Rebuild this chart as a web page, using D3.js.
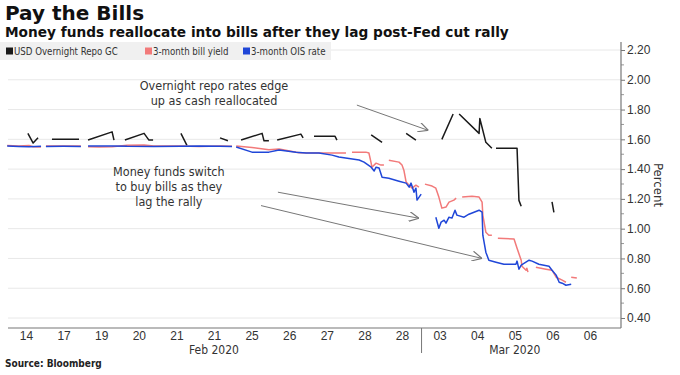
<!DOCTYPE html>
<html>
<head>
<meta charset="utf-8">
<script src="https://cdn.jsdelivr.net/npm/d3@7/dist/d3.min.js"></script>
<style>
    body { margin: 0; background: #fff; }
    svg { font-family: "DejaVu Sans Condensed", "DejaVu Sans", sans-serif; }
</style>
</head>
<body>
<div id="chart"></div>
<script>
// time axis is in trading-session units: tick i sits on session i
var tickLabels = ["14", "17", "19", "20", "21", "21", "25", "26", "27", "28", "28", "03", "04", "05", "06", "06"];
var months = [{ label: "Feb 2020", at: 5 }, { label: "Mar 2020", at: 13 }];
var monthBreak = 10.52;
var yTicks = [0.4, 0.6, 0.8, 1.0, 1.2, 1.4, 1.6, 1.8, 2.0, 2.2];

// [session, percent], null = gap
var repo = [
    [0.05, 1.64], [0.19, 1.575], [0.32, 1.61], null,
    [0.69, 1.60], [1.41, 1.60], null,
    [1.65, 1.595], [2.29, 1.65], [2.34, 1.595], null,
    [2.63, 1.595], [3.14, 1.64], [3.27, 1.595], [3.38, 1.595], null,
    [4.12, 1.64], [4.28, 1.56], null,
    [5.16, 1.61], [5.37, 1.59], null,
    [5.72, 1.595], [6.28, 1.64], [6.33, 1.59], [6.46, 1.59], null,
    [6.68, 1.595], [7.31, 1.635], [7.37, 1.61], null,
    [7.66, 1.62], [8.22, 1.62], [8.27, 1.595], null,
    [9.18, 1.63], [9.47, 1.58], null,
    [10.11, 1.64], [10.37, 1.595], null,
    [11.06, 1.60], [11.36, 1.77], null,
    [11.52, 1.77], [12.05, 1.64], [12.07, 1.74], [12.23, 1.58], [12.39, 1.54], null,
    [12.50, 1.54], [13.06, 1.54], [13.11, 1.19], [13.17, 1.15], null,
    [13.99, 1.18], [14.04, 1.11]
];

var bill = [
    [-0.5, 1.558], [-0.19, 1.555], [0.08, 1.558], [0.19, 1.55], [0.40, 1.548], null,
    [0.53, 1.556], [1.0, 1.555], [1.46, 1.556], null,
    [1.65, 1.55], [1.94, 1.548], [2.29, 1.55], [2.69, 1.56], [3.14, 1.562], [3.40, 1.556], [4.12, 1.555],
    [4.60, 1.552], [5.16, 1.555], [5.48, 1.553], null,
    [5.59, 1.555], [6.01, 1.545], [6.46, 1.53], [6.73, 1.535], [7.26, 1.51], [7.79, 1.508], [8.51, 1.508], null,
    [8.67, 1.514], [9.04, 1.514], [9.12, 1.508], [9.18, 1.44], [9.20, 1.413], [9.31, 1.44], [9.44, 1.427], [9.52, 1.427], null,
    [9.65, 1.46], [9.92, 1.447], [10.0, 1.427], [10.05, 1.393], [10.11, 1.313], [10.19, 1.292], [10.27, 1.272],
    [10.37, 1.292], [10.45, 1.279], null,
    [10.61, 1.299], [10.80, 1.286], [10.90, 1.272], [10.98, 1.212], [11.06, 1.138], [11.17, 1.145], [11.25, 1.178],
    [11.38, 1.192], [11.44, 1.205], null,
    [11.60, 1.212], [11.86, 1.218], [12.05, 1.212], [12.13, 1.178], [12.15, 1.091], [12.23, 0.976], [12.31, 0.956],
    [12.39, 0.956], null,
    [12.55, 0.936], [12.98, 0.93], [13.06, 0.868], [13.17, 0.788], [13.19, 0.748], [13.30, 0.721], [13.32, 0.734],
    [13.35, 0.708], null,
    [13.56, 0.741], [13.83, 0.728], [13.99, 0.721], [14.10, 0.674], [14.26, 0.654], [14.36, 0.64], null,
    [14.50, 0.674], [14.65, 0.668]
];

var ois = [
    [-0.5, 1.555], [-0.19, 1.552], [0.08, 1.55], [0.40, 1.553], null,
    [0.53, 1.552], [1.0, 1.553], [1.46, 1.552], null,
    [1.65, 1.555], [2.29, 1.556], [2.69, 1.553], [3.4, 1.552], [4.12, 1.553], [4.6, 1.555], [5.16, 1.553], [5.48, 1.552], null,
    [5.59, 1.548], [6.01, 1.514], [6.46, 1.514], [6.73, 1.528], [7.18, 1.514], [7.45, 1.508], [7.79, 1.508],
    [8.14, 1.494], [8.32, 1.481], [8.86, 1.461], [8.99, 1.447], [9.18, 1.413], [9.26, 1.387], [9.31, 1.413],
    [9.39, 1.407], [9.47, 1.346], [9.65, 1.339], [9.92, 1.319], [10.11, 1.306], [10.19, 1.279], [10.24, 1.306],
    [10.32, 1.245], [10.37, 1.272], [10.40, 1.192], [10.51, 1.232], null,
    [10.90, 1.077], [10.98, 1.003], [11.04, 1.044], [11.12, 1.057], [11.17, 1.037], [11.25, 1.077], [11.33, 1.071],
    [11.41, 1.124], [11.46, 1.091], [11.65, 1.077], [11.78, 1.097], [12.05, 1.124], [12.13, 1.111], [12.15, 0.956],
    [12.23, 0.842], [12.31, 0.788], [12.50, 0.775], [12.71, 0.761], [13.03, 0.761], [13.06, 0.782], [13.11, 0.728],
    [13.17, 0.755], [13.38, 0.788], [13.46, 0.782], [13.64, 0.761], [13.91, 0.748], [13.99, 0.721], [14.10, 0.688],
    [14.18, 0.64], [14.26, 0.634], [14.36, 0.62], [14.50, 0.627]
];

var series = [
    { name: "USD Overnight Repo GC", color: "#1a1a1a", data: repo },
    { name: "3-month bill yield", color: "#f27a7a", data: bill },
    { name: "3-month OIS rate", color: "#2047d8", data: ois }
];

// annotations: text lines + arrows [session, percent] from -> to
var notes = [
    { lines: ["Overnight repo rates edge", "up as cash reallocated"], at: [5, 1.93],
      arrows: [[[8.8, 1.83], [10.7, 1.66]]] },
    { lines: ["Money funds switch", "to buy bills as they", "lag the rally"], at: [3.8, 1.355],
      arrows: [[[6.7, 1.245], [10.45, 1.07]], [[6.25, 1.155], [12.13, 0.8]]] }
];

var W = 680, H = 375;
var plot = { left: 8, right: 621, top: 42, bottom: 328 };

var svg = d3.select("#chart").append("svg").attr("width", W).attr("height", H);

var defs = svg.append("defs");
defs.append("marker")
    .attr("id", "arr")
    .attr("viewBox", "0 0 10 10")
    .attr("refX", 10).attr("refY", 5)
    .attr("markerWidth", 10).attr("markerHeight", 10)
    .attr("markerUnits", "userSpaceOnUse")
    .attr("orient", "auto")
    .append("path")
    .attr("d", "M0,0 L10,5 L0,10")
    .attr("fill", "none")
    .attr("stroke", "#777")
    .attr("stroke-width", 1.2);

var x = d3.scaleLinear().domain([0, 15]).range([26, 590]);
var y = d3.scaleLinear().domain([0.4, 2.2]).range([318, 50]);

// title
svg.append("text").attr("x", 5).attr("y", 20)
    .style("font", "bold 20px 'DejaVu Sans'").attr("fill", "#111").text("Pay the Bills");
svg.append("text").attr("x", 5).attr("y", 37)
    .style("font", "bold 13.7px 'DejaVu Sans'").attr("fill", "#111")
    .text("Money funds reallocate into bills after they lag post-Fed cut rally");

// grid
svg.append("g").selectAll("line").data(yTicks).enter().append("line")
    .attr("x1", plot.left).attr("x2", plot.right)
    .attr("y1", d => y(d)).attr("y2", d => y(d))
    .attr("stroke", "#e8e8e8").attr("stroke-width", 1);

// legend
var legend = svg.append("g");
legend.append("rect").attr("x", 0).attr("y", 42).attr("width", 331).attr("height", 18).attr("fill", "#f0f0f0");
var lx = [6, 145, 243];
series.forEach(function (s, i) {
    legend.append("rect").attr("x", lx[i]).attr("y", 47.5).attr("width", 7).attr("height", 7).attr("fill", s.color);
    legend.append("text").attr("x", lx[i] + 8).attr("y", 55)
        .style("font-size", "9.6px").attr("fill", "#333").text(s.name);
});

// series
var line = d3.line()
    .defined(d => d !== null)
    .x(d => x(d[0]))
    .y(d => y(d[1]));
series.forEach(function (s) {
    svg.append("path")
        .datum(s.data)
        .attr("d", line)
        .attr("fill", "none")
        .attr("stroke", s.color)
        .attr("stroke-width", 1.5)
        .attr("stroke-linejoin", "round");
});

// annotations
notes.forEach(function (n) {
    var t = svg.append("text")
        .attr("x", x(n.at[0])).attr("y", y(n.at[1]))
        .attr("text-anchor", "middle")
        .style("font-size", "12.5px").attr("fill", "#333");
    n.lines.forEach(function (l, i) {
        t.append("tspan").attr("x", x(n.at[0])).attr("dy", i ? 15 : 0).text(l);
    });
    n.arrows.forEach(function (a) {
        svg.append("line")
            .attr("x1", x(a[0][0])).attr("y1", y(a[0][1]))
            .attr("x2", x(a[1][0])).attr("y2", y(a[1][1]))
            .attr("stroke", "#777").attr("stroke-width", 1)
            .attr("marker-end", "url(#arr)");
    });
});

// right axis
var yAxis = d3.axisRight(y).tickValues(yTicks).tickFormat(d3.format(".2f")).tickSize(4).tickPadding(2);
var ya = svg.append("g").attr("transform", "translate(" + plot.right + ",0)").call(yAxis);
ya.select(".domain").remove();
ya.selectAll("text").style("font-size", "12px").attr("fill", "#333");
ya.selectAll("line").attr("stroke", "#777");
svg.append("g").selectAll("line").data(d3.range(0.5, 2.2, 0.2)).enter().append("line")
    .attr("x1", plot.right).attr("x2", plot.right + 3)
    .attr("y1", d => y(d)).attr("y2", d => y(d)).attr("stroke", "#999");
svg.append("line").attr("x1", plot.right).attr("x2", plot.right)
    .attr("y1", plot.top).attr("y2", plot.bottom).attr("stroke", "#777").attr("stroke-width", 1.2);
svg.append("text")
    .attr("transform", "translate(654,185) rotate(90)")
    .attr("text-anchor", "middle")
    .style("font-size", "13px").attr("fill", "#333").text("Percent");

// bottom axis
svg.append("line").attr("x1", plot.left).attr("x2", plot.right)
    .attr("y1", plot.bottom).attr("y2", plot.bottom).attr("stroke", "#777").attr("stroke-width", 1.2);
var xAxis = d3.axisBottom(x).tickValues(d3.range(tickLabels.length))
    .tickFormat(i => tickLabels[i]).tickSize(0).tickPadding(3);
var xa = svg.append("g").attr("transform", "translate(0," + plot.bottom + ")").call(xAxis);
xa.select(".domain").remove();
xa.selectAll("text").style("font-size", "12px").attr("fill", "#333");
svg.append("line").attr("x1", x(monthBreak)).attr("x2", x(monthBreak))
    .attr("y1", plot.bottom).attr("y2", 353).attr("stroke", "#777");
svg.selectAll("text.month").data(months).enter().append("text")
    .attr("class", "month")
    .attr("x", d => x(d.at)).attr("y", 354)
    .attr("text-anchor", "middle")
    .style("font-size", "12px").attr("fill", "#333").text(d => d.label);

svg.append("text").attr("x", 5).attr("y", 367)
    .style("font", "bold 10px 'DejaVu Sans Condensed', 'DejaVu Sans'").attr("fill", "#222")
    .text("Source: Bloomberg");
</script>
</body>
</html>
